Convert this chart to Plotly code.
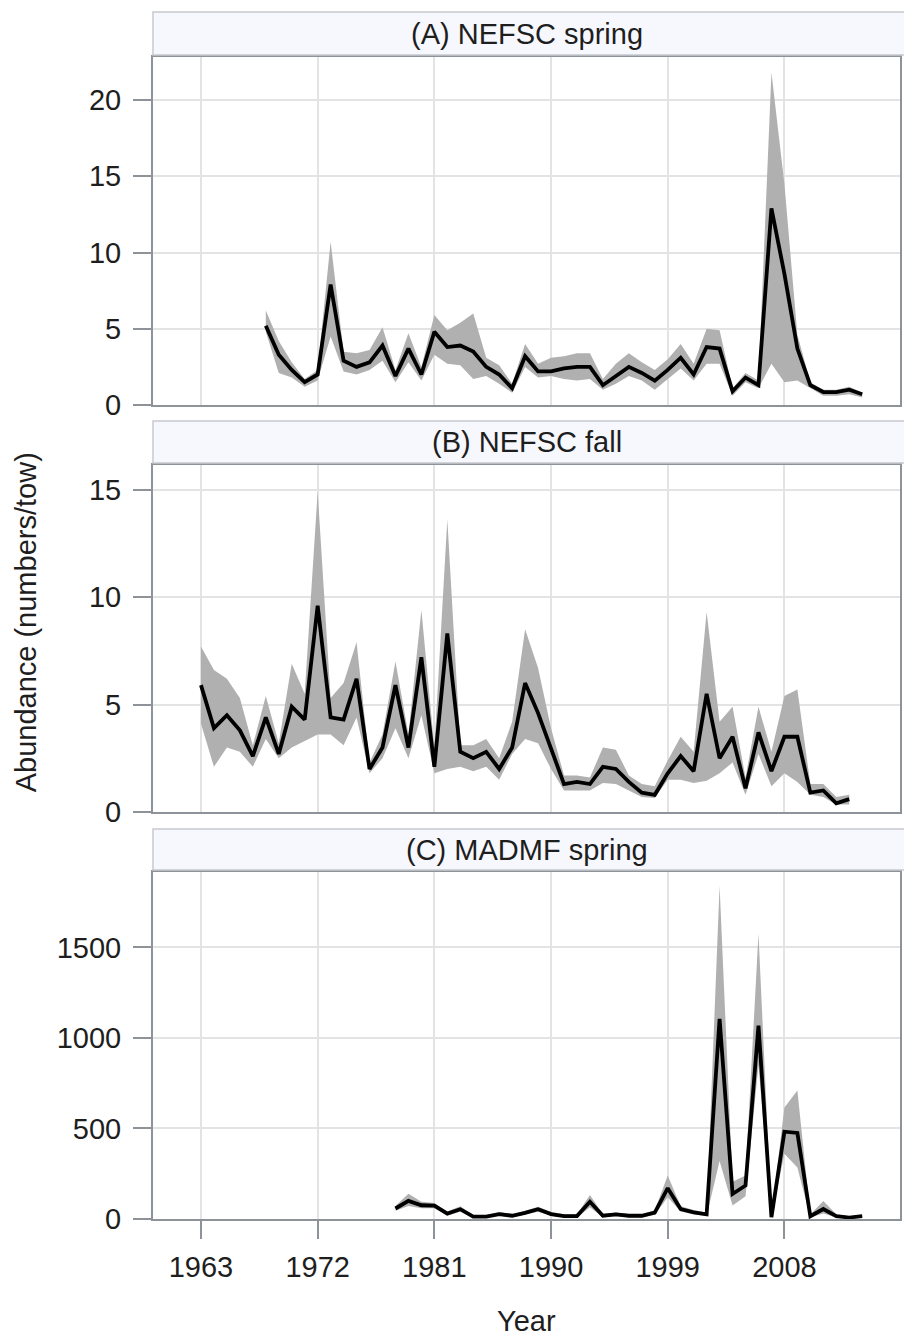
import plotly.graph_objects as go

# ---------------- data ----------------
years_a = list(range(1968, 2015))
line_a = [5.2, 3.3, 2.3, 1.5, 2.0, 7.9, 2.9, 2.5, 2.8, 3.9, 1.9, 3.7, 2.0, 4.8, 3.8, 3.9,
          3.5, 2.5, 2.0, 1.1, 3.2, 2.2, 2.2, 2.4, 2.5, 2.5, 1.3, 1.9, 2.5, 2.1, 1.6, 2.3,
          3.1, 2.0, 3.8, 3.7, 0.9, 1.8, 1.3, 12.9, 8.6, 3.7, 1.3, 0.85, 0.85, 1.0, 0.7]
upper_a = [6.2, 4.2, 2.8, 1.7, 2.3, 10.7, 3.5, 3.4, 3.6, 5.1, 2.3, 4.7, 2.5, 5.9, 4.9, 5.4,
           6.0, 3.1, 2.6, 1.4, 4.0, 2.7, 3.1, 3.2, 3.4, 3.4, 1.7, 2.7, 3.4, 2.8, 2.3, 3.0,
           4.0, 2.7, 5.0, 4.9, 1.1, 2.1, 1.6, 21.8, 14.5, 4.6, 1.5, 1.0, 1.0, 1.2, 0.8]
lower_a = [4.8, 2.1, 1.8, 1.2, 1.6, 4.5, 2.2, 2.0, 2.3, 2.9, 1.5, 2.8, 1.6, 3.3, 2.7, 2.6,
           1.7, 1.9, 1.4, 0.8, 2.5, 1.8, 1.9, 1.7, 1.6, 1.7, 1.0, 1.4, 1.9, 1.6, 1.0, 1.7,
           2.4, 1.6, 2.7, 2.7, 0.6, 1.5, 1.1, 2.7, 1.5, 1.6, 1.1, 0.6, 0.6, 0.7, 0.5]

years_b = list(range(1963, 2014))
line_b = [5.9, 3.9, 4.5, 3.8, 2.6, 4.4, 2.7, 4.9, 4.3, 9.6, 4.4, 4.3, 6.2, 2.0, 3.0, 5.9,
          3.0, 7.2, 2.1, 8.3, 2.8, 2.5, 2.8, 2.0, 3.0, 6.0, 4.6, 3.0, 1.3, 1.4, 1.3, 2.1,
          2.0, 1.4, 0.9, 0.8, 1.8, 2.6, 1.9, 5.5, 2.5, 3.5, 1.1, 3.7, 1.9, 3.5, 3.5, 0.9,
          1.0, 0.4, 0.6]
upper_b = [7.7, 6.6, 6.2, 5.3, 3.1, 5.4, 3.2, 6.9, 5.5, 14.9, 5.3, 6.0, 7.9, 2.3, 3.6, 7.0,
           3.6, 9.4, 3.0, 13.6, 3.1, 3.1, 3.4, 2.5, 4.2, 8.5, 6.7, 3.9, 1.7, 1.7, 1.6, 3.0,
           2.9, 1.7, 1.3, 1.2, 2.4, 3.5, 2.8, 9.3, 4.2, 4.9, 1.6, 4.9, 2.8, 5.4, 5.7, 1.3,
           1.3, 0.7, 0.8]
lower_b = [4.1, 2.1, 3.0, 2.8, 2.1, 3.4, 2.5, 3.0, 3.3, 3.6, 3.6, 3.1, 4.4, 1.8, 2.5, 3.9,
           2.5, 4.5, 1.8, 2.0, 2.1, 1.9, 2.1, 1.5, 2.7, 3.4, 3.2, 2.0, 1.0, 1.0, 1.0, 1.35,
           1.3, 1.0, 0.7, 0.65, 1.5, 1.5, 1.35, 1.45, 1.8, 2.3, 0.8, 2.7, 1.2, 1.8, 1.4, 0.8,
           0.7, 0.35, 0.35]

years_c = list(range(1978, 2015))
line_c = [58, 100, 76, 74, 30, 54, 13, 13, 27, 18, 34, 54, 27, 16, 16, 95, 18, 25, 18, 18,
          35, 170, 55, 37, 26, 1105, 138, 185, 1068, 10, 482, 475, 15, 55, 16, 8, 16]
upper_c = [72, 140, 95, 88, 42, 70, 22, 22, 38, 28, 46, 68, 38, 26, 26, 132, 28, 36, 28, 28,
           48, 240, 70, 50, 36, 1840, 205, 240, 1575, 20, 615, 710, 25, 100, 26, 15, 24]
lower_c = [45, 72, 60, 60, 20, 40, 6, 6, 18, 10, 24, 40, 18, 8, 8, 65, 10, 16, 10, 10,
           24, 120, 42, 26, 16, 320, 75, 125, 850, 4, 360, 285, 8, 30, 8, 3, 10]

panel_titles = ["(A) NEFSC spring", "(B) NEFSC fall", "(C) MADMF spring"]
x_ticks = [1963, 1972, 1981, 1990, 1999, 2008]
y_ticks_a = [0, 5, 10, 15, 20]
y_ticks_b = [0, 5, 10, 15]
y_ticks_c = [0, 500, 1000, 1500]

# ---------------- figure ----------------
W, H = 904, 1340
ML, MR, MT, MB = 153, 2, 12, 121
PH = H - MT - MB  # plot height in px


def py(px):
    """convert pixel y (from top of page) to paper fraction"""
    return (H - MB - px) / PH


FONT = "Liberation Sans, Arial, sans-serif"
TXT = "#1e1e1e"
AXC = "#8d9398"
GRID = "#e3e3e3"
BAND = "rgb(176,176,176)"

fig = go.Figure()

panels = [
    (years_a, line_a, upper_a, lower_a, "x", "y"),
    (years_b, line_b, upper_b, lower_b, "x2", "y2"),
    (years_c, line_c, upper_c, lower_c, "x3", "y3"),
]
for yrs, ln, up, lo, xa, ya in panels:
    fig.add_trace(go.Scatter(
        x=yrs + yrs[::-1], y=up + lo[::-1], fill="toself", fillcolor=BAND,
        line=dict(width=0), mode="lines", hoverinfo="skip", showlegend=False,
        xaxis=xa, yaxis=ya))
    fig.add_trace(go.Scatter(
        x=yrs, y=ln, mode="lines", line=dict(color="black", width=3.8),
        showlegend=False, xaxis=xa, yaxis=ya))

xrange = [1959.3, 1959.3 + (W - ML - MR) / 13.0]

plot_px = [(57, 405), (465, 812), (872, 1219)]
strip_px = [(12, 55), (421, 463), (829, 870)]
yranges = [[0, 348 / 15.25], [0, 347 / 21.5], [0, 347 / 0.1811]]
yticks = [y_ticks_a, y_ticks_b, y_ticks_c]

common_x = dict(range=xrange, tickvals=x_ticks, showgrid=True, gridcolor=GRID, gridwidth=1.5,
                showline=True, linecolor=AXC, linewidth=2, mirror=True, zeroline=False,
                fixedrange=True)
common_y = dict(showgrid=True, gridcolor=GRID, gridwidth=1.5, showline=True, linecolor=AXC,
                linewidth=2, mirror=True, zeroline=False, ticks="outside", ticklen=18,
                tickwidth=1.5, tickcolor=AXC, ticklabelstandoff=6,
                tickfont=dict(family=FONT, size=29, color=TXT))

layout = dict(width=W, height=H, margin=dict(l=ML, r=MR, t=MT, b=MB),
              paper_bgcolor="white", plot_bgcolor="white", showlegend=False)

for i in range(3):
    sfx = "" if i == 0 else str(i + 1)
    top, bot = plot_px[i]
    xa = dict(common_x, anchor="y" + sfx)
    if i < 2:
        xa.update(showticklabels=False, ticks="", matches="x3")
    else:
        xa.update(ticks="outside", ticklen=18, tickwidth=1.5, tickcolor=AXC,
                  ticklabelstandoff=3,
                  tickfont=dict(family=FONT, size=29, color=TXT))
    ya = dict(common_y, anchor="x" + sfx, domain=[py(bot), py(top)],
              range=yranges[i], tickvals=yticks[i])
    layout["xaxis" + sfx] = xa
    layout["yaxis" + sfx] = ya

fig.update_layout(**layout)

shapes = []
annotations = []
for i, (t, b) in enumerate(strip_px):
    shapes.append(dict(type="rect", xref="paper", yref="paper", x0=0, x1=1.01,
                       y0=py(b), y1=py(t), fillcolor="#f7f8fe",
                       line=dict(color="#c6c9cd", width=1.5), layer="above"))
    annotations.append(dict(text=panel_titles[i], xref="paper", yref="paper", x=0.5,
                            y=py((t + b) / 2), xanchor="center", yanchor="middle",
                            showarrow=False, font=dict(family=FONT, size=29, color=TXT)))

annotations.append(dict(text="Year", xref="paper", yref="paper", x=0.5, y=py(1321),
                        xanchor="center", yanchor="middle", showarrow=False,
                        font=dict(family=FONT, size=29, color=TXT)))
annotations.append(dict(text="Abundance (numbers/tow)", xref="paper", yref="paper",
                        x=(26 - ML) / (W - ML - MR), y=py(622), xanchor="center",
                        yanchor="middle", textangle=-90, showarrow=False,
                        font=dict(family=FONT, size=29, color=TXT)))

fig.update_layout(shapes=shapes, annotations=annotations)
fig.write_html("out.html")
